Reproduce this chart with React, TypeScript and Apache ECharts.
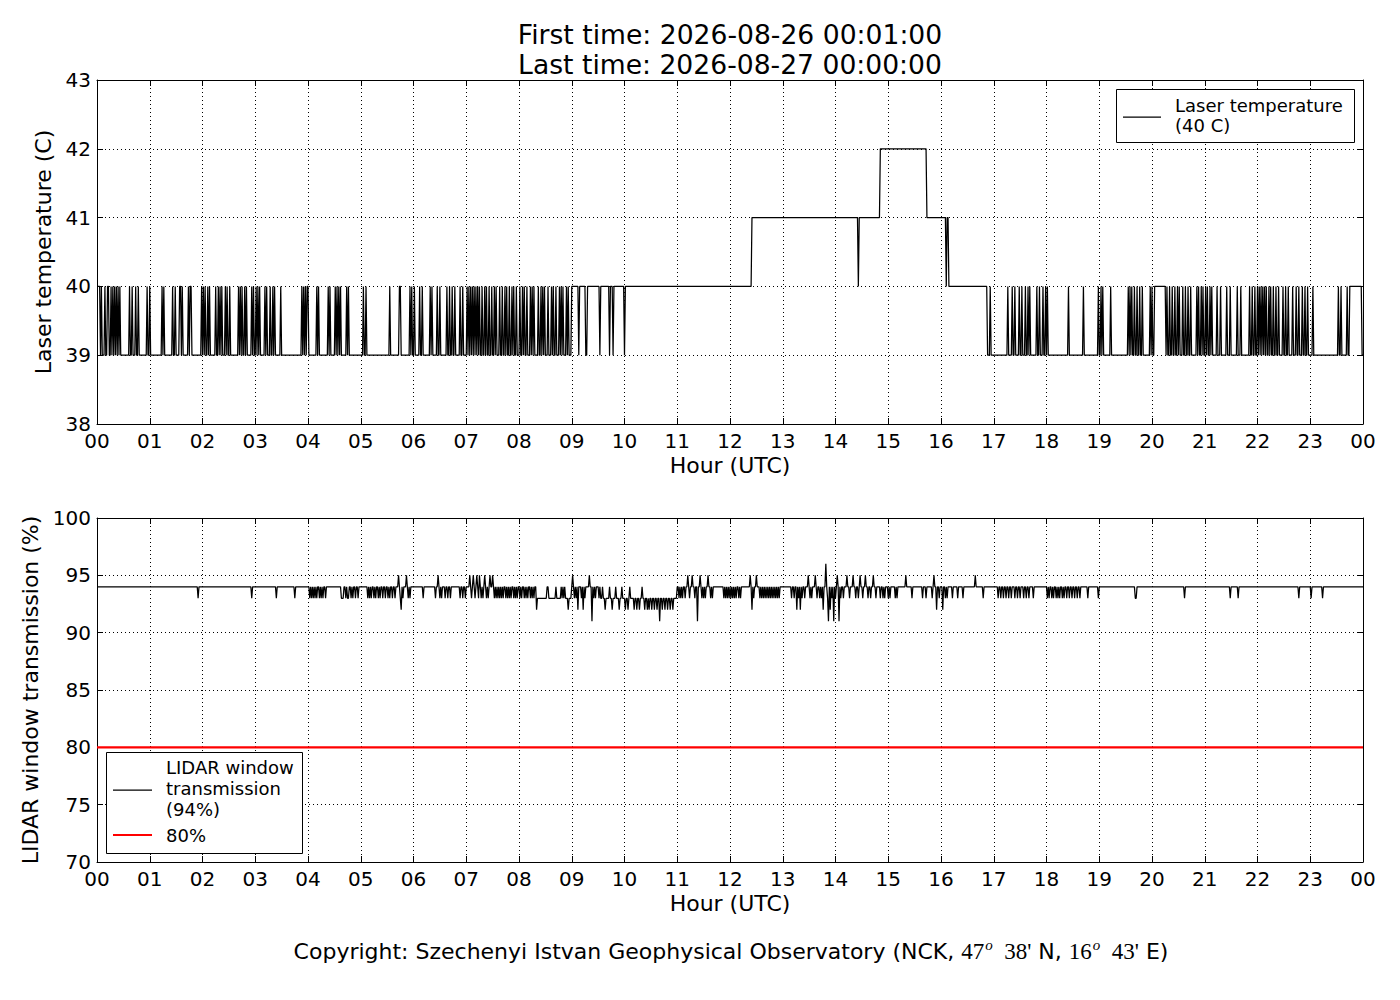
import React, { useEffect, useRef } from "react";
import * as echarts from "echarts";

// ---------- DATA (minutes after 00:00 UTC, 1-minute resolution) ----------
const TITLE_FIRST = "First time: 2026-08-26 00:01:00";
const TITLE_LAST = "Last time: 2026-08-27 00:00:00";
const COPYRIGHT = "Copyright: Szechenyi Istvan Geophysical Observatory (NCK, ";

const TEMP_LEGEND = ["Laser temperature", "(40 C)"];
const TRANS_LEGEND = ["LIDAR window", "transmission", "(94%)"];
const LIMIT_LEGEND = "80%";
const LIMIT_VALUE = 80;

// Laser temperature: level changes [minute, value]
const tempLevels: [number, number][] = [
  [1, 40], [4, 39], [540, 40], [745, 41], [891, 42], [944, 41], [969, 40],
  [1013, 39], [1203, 40], [1216, 39], [1425, 40], [1439, 39],
];
// one-minute excursions one degree above the current level
const tempUp: number[] = [
  5, 9, 12, 13, 16, 18, 20, 22, 24, 26, 37, 40, 44, 47, 57, 60, 74, 76, 86, 89, 94, 95, 97,
  104, 106, 107, 119, 121, 123, 126, 128, 135, 138, 140, 142, 146, 148, 151, 161, 163, 165,
  168, 170, 176, 178, 181, 183, 185, 191, 193, 197, 200, 202, 209, 233, 235, 237, 239, 240,
  250, 252, 263, 265, 271, 273, 275, 277, 284, 286, 303, 306, 333, 344, 345, 356, 358, 361,
  367, 370, 379, 381, 387, 390, 398, 401, 404, 407, 413, 416, 421, 423, 425, 427, 429, 431,
  433, 435, 438, 441, 443, 446, 449, 452, 454, 458, 461, 464, 466, 469, 472,
  474, 477, 481, 484, 486, 489, 493, 495, 497, 502, 505, 507, 509, 513,
  517, 519, 522, 526, 528, 530, 534, 536,
  1016, 1036, 1041, 1044, 1049, 1052, 1056, 1059, 1061, 1069, 1072, 1076, 1079, 1081, 1105,
  1122, 1139, 1142, 1144, 1153, 1173, 1175, 1177, 1180, 1183, 1186, 1189, 1198, 1200, 1217,
  1220, 1223, 1226, 1229, 1231, 1235, 1238, 1241, 1244, 1251, 1253, 1256, 1258, 1261, 1263,
  1266, 1268, 1274, 1278, 1285, 1289, 1297, 1301, 1311, 1314, 1317, 1320, 1322, 1324, 1326,
  1328, 1330, 1333, 1335, 1338, 1341, 1344, 1349, 1352, 1355, 1360, 1364, 1367, 1371, 1374,
  1377, 1383, 1412, 1415, 1422,
];
// one-minute excursions one degree below the current level
const tempDown: number[] = [548, 556, 557, 572, 583, 587, 600, 866, 966];

// LIDAR window transmission: level changes [minute, value]
const transLevels: [number, number][] = [
  [1, 94], [500, 93], [540, 94], [571, 93], [660, 94],
];
const transUp: number[] = [
  343, 352, 388, 424, 428, 432, 435, 441, 447, 450, 512, 513, 522, 528, 530, 532,
  572, 575, 583, 590, 597, 606, 620,
  672, 677, 686, 695, 743, 750, 809, 817, 842, 853, 860, 868, 874, 883, 920, 952, 999,
];
const transDown: number[] = [
  115, 176, 204, 225, 242, 244, 246, 248, 250, 253, 255, 257, 260, 278, 279, 280, 283, 285,
  286, 289, 291, 294, 297, 308, 310, 312, 315, 317, 320, 322, 325, 328, 331, 333, 336, 339,
  345, 348, 354, 356, 371, 385, 390, 392, 396, 399, 402, 413, 416, 419, 426, 430, 434, 437,
  439, 443, 445, 452, 454, 456, 458, 460, 462, 465, 467, 469, 471, 474, 476, 478, 481, 483,
  486, 488, 490, 493, 495, 497, 500, 536, 543, 545, 551, 555, 565, 567,
  578, 586, 594, 601, 604, 611, 614, 617, 623, 626, 628, 631, 634, 637, 643, 646, 649, 652, 655,
  662, 664, 666, 669, 674, 680, 688, 690, 692, 698, 700, 713, 715, 717, 719, 721, 723, 725,
  727, 730, 732, 747, 754, 756, 758, 760, 762, 764, 766, 768, 770, 772, 774, 776, 790, 793,
  798, 802, 805, 811, 813, 819, 822, 824, 831, 836, 840, 846, 849, 856, 863, 866, 871, 877,
  880, 886, 891, 894, 896, 900, 902, 908, 910, 927, 939, 943, 950, 958, 965, 967, 973, 979,
  985, 1008, 1025, 1028, 1031, 1034, 1037, 1040, 1044, 1047, 1050, 1054, 1057, 1060, 1065,
  1081, 1083, 1086, 1088, 1091, 1093, 1095, 1098, 1100, 1103, 1106, 1109, 1112, 1115, 1118,
  1127, 1139, 1181, 1182, 1237, 1289, 1298, 1367, 1381, 1394,
];
const transOther: [number, number][] = [
  [346, 92], [541, 95], [547, 92], [553, 92], [560, 95], [563, 91], [640, 91], [683, 91],
  [745, 92], [796, 92], [800, 92], [826, 92], [829, 96], [832, 91], [834, 92], [838, 91],
  [844, 91], [955, 92], [962, 92],
];

const TOTAL_MINUTES = 1440;

function buildSeries(
  levels: [number, number][],
  up: number[],
  down: number[],
  other: [number, number][]
): [number, number][] {
  const base: number[] = [];
  for (let m = 1; m <= TOTAL_MINUTES; m++) {
    let lv = levels[0][1];
    for (const [s, v] of levels) if (m >= s) lv = v;
    base[m] = lv;
  }
  const vals = base.slice();
  up.forEach((m) => (vals[m] = base[m] + 1));
  down.forEach((m) => (vals[m] = base[m] - 1));
  other.forEach(([m, v]) => (vals[m] = v));
  const out: [number, number][] = [];
  for (let m = 1; m <= TOTAL_MINUTES; m++) out.push([m / 60, vals[m]]);
  return out;
}

const FONT = "DejaVu Sans";

export default function App() {
  const ref = useRef<HTMLDivElement>(null);
  useEffect(() => {
    if (!ref.current) return;
    const chart = echarts.init(ref.current, undefined, { renderer: "svg" });
    const tempData = buildSeries(tempLevels, tempUp, tempDown, []);
    const transData = buildSeries(transLevels, transUp, transDown, transOther);

    const grids = [
      { left: 97, top: 80, width: 1266, height: 344 },
      { left: 97, top: 518, width: 1266, height: 344 },
    ];
    const hourFmt = (v: number) => String(Math.round(v) % 24).padStart(2, "0");
    const tick = { show: true, inside: true, length: 6, lineStyle: { color: "#000", width: 1 } };
    const line = { show: true, onZero: false, lineStyle: { color: "#000", width: 1 } };
    const split = { show: true, lineStyle: { color: "#000", width: 1, type: [1, 3] as any } };

    const mkX = (gi: number, top: boolean) => ({
      type: "value",
      gridIndex: gi,
      position: top ? "top" : "bottom",
      min: 0,
      max: 24,
      interval: 1,
      axisLine: line,
      axisTick: tick,
      splitLine: top ? { show: false } : split,
      axisLabel: top
        ? { show: false }
        : { show: true, formatter: hourFmt, color: "#000", fontFamily: FONT, fontSize: 20, margin: 7 },
      name: top ? "" : "Hour (UTC)",
      nameLocation: "middle",
      nameGap: 30,
      nameTextStyle: { color: "#000", fontFamily: FONT, fontSize: 22, verticalAlign: "top" },
    });
    const mkY = (gi: number, right: boolean, min: number, max: number, interval: number, name: string, gap: number) => ({
      type: "value",
      gridIndex: gi,
      position: right ? "right" : "left",
      min,
      max,
      interval,
      axisLine: line,
      axisTick: tick,
      splitLine: right ? { show: false } : split,
      axisLabel: right
        ? { show: false }
        : { show: true, color: "#000", fontFamily: FONT, fontSize: 20, margin: 6 },
      name: right ? "" : name,
      nameLocation: "middle",
      nameGap: gap,
      nameTextStyle: { color: "#000", fontFamily: FONT, fontSize: 22 },
    });

    chart.setOption({
      animation: false,
      backgroundColor: "#fff",
      grid: grids,
      xAxis: [mkX(0, false), mkX(1, false), mkX(0, true), mkX(1, true)],
      yAxis: [
        mkY(0, false, 38, 43, 1, "Laser temperature (C)", 36),
        mkY(1, false, 70, 100, 5, "LIDAR window transmission (%)", 48),
        mkY(0, true, 38, 43, 1, "", 0),
        mkY(1, true, 70, 100, 5, "", 0),
      ],
      series: [
        {
          type: "line",
          xAxisIndex: 0,
          yAxisIndex: 0,
          data: tempData,
          showSymbol: false,
          symbol: "none",
          lineStyle: { color: "#000", width: 1.25 },
          clip: true,
        },
        {
          type: "line",
          xAxisIndex: 1,
          yAxisIndex: 1,
          data: transData,
          showSymbol: false,
          symbol: "none",
          lineStyle: { color: "#000", width: 1.25 },
          clip: true,
        },
        {
          type: "line",
          xAxisIndex: 1,
          yAxisIndex: 1,
          data: [[0, LIMIT_VALUE], [24, LIMIT_VALUE]],
          showSymbol: false,
          symbol: "none",
          lineStyle: { color: "#ff0000", width: 2.2 },
          z: 5,
        },
      ],
      graphic: [
        {
          type: "text",
          x: 730,
          y: 34,
          style: { text: TITLE_FIRST, fill: "#000", font: `26.6px "${FONT}"`, align: "center", verticalAlign: "middle" },
        },
        {
          type: "text",
          x: 730,
          y: 64,
          style: { text: TITLE_LAST, fill: "#000", font: `26.6px "${FONT}"`, align: "center", verticalAlign: "middle" },
        },
        // top legend
        {
          type: "rect",
          shape: { x: 1116.5, y: 89.5, width: 238, height: 53 },
          style: { fill: "#fff", stroke: "#000", lineWidth: 1 },
          z: 10,
        },
        {
          type: "line",
          shape: { x1: 1123, y1: 117, x2: 1161, y2: 117 },
          style: { stroke: "#000", lineWidth: 1.25 },
          z: 11,
        },
        {
          type: "text",
          x: 1175,
          y: 105,
          z: 11,
          style: { text: TEMP_LEGEND[0], fill: "#000", font: `18px "${FONT}"`, verticalAlign: "middle" },
        },
        {
          type: "text",
          x: 1175,
          y: 125,
          z: 11,
          style: { text: TEMP_LEGEND[1], fill: "#000", font: `18px "${FONT}"`, verticalAlign: "middle" },
        },
        // bottom legend
        {
          type: "rect",
          shape: { x: 106.5, y: 752.5, width: 196, height: 101 },
          style: { fill: "#fff", stroke: "#000", lineWidth: 1 },
          z: 10,
        },
        {
          type: "line",
          shape: { x1: 113, y1: 790, x2: 152, y2: 790 },
          style: { stroke: "#000", lineWidth: 1.25 },
          z: 11,
        },
        {
          type: "line",
          shape: { x1: 113, y1: 835, x2: 152, y2: 835 },
          style: { stroke: "#ff0000", lineWidth: 2.2 },
          z: 11,
        },
        ...TRANS_LEGEND.map((t, i) => ({
          type: "text",
          x: 166,
          y: 767 + i * 21,
          z: 11,
          style: { text: t, fill: "#000", font: `18px "${FONT}"`, verticalAlign: "middle" },
        })),
        {
          type: "text",
          x: 166,
          y: 835,
          z: 11,
          style: { text: LIMIT_LEGEND, fill: "#000", font: `18px "${FONT}"`, verticalAlign: "middle" },
        },
        // copyright
        {
          type: "text",
          x: 731,
          y: 951,
          style: {
            text:
              "{a|" + COPYRIGHT + "}{m|47}{s|o}{m|  38'}{a| N, }{m|16}{s|o}{m|  43'}{a| E)}",
            align: "center",
            verticalAlign: "middle",
            rich: {
              a: { fontFamily: FONT, fontSize: 22, fill: "#000", lineHeight: 30 },
              m: { fontFamily: "Liberation Serif", fontSize: 23, fill: "#000", lineHeight: 30 },
              s: {
                fontFamily: "Liberation Serif",
                fontStyle: "italic",
                fontSize: 15,
                fill: "#000",
                lineHeight: 30,
                padding: [0, 0, 13, 1],
              },
            },
          },
        },
      ],
    } as any);
    return () => chart.dispose();
  }, []);
  return (
    <div
      ref={ref}
      style={{ position: "absolute", left: 0, top: 0, width: 1400, height: 1000, background: "#fff" }}
    />
  );
}
